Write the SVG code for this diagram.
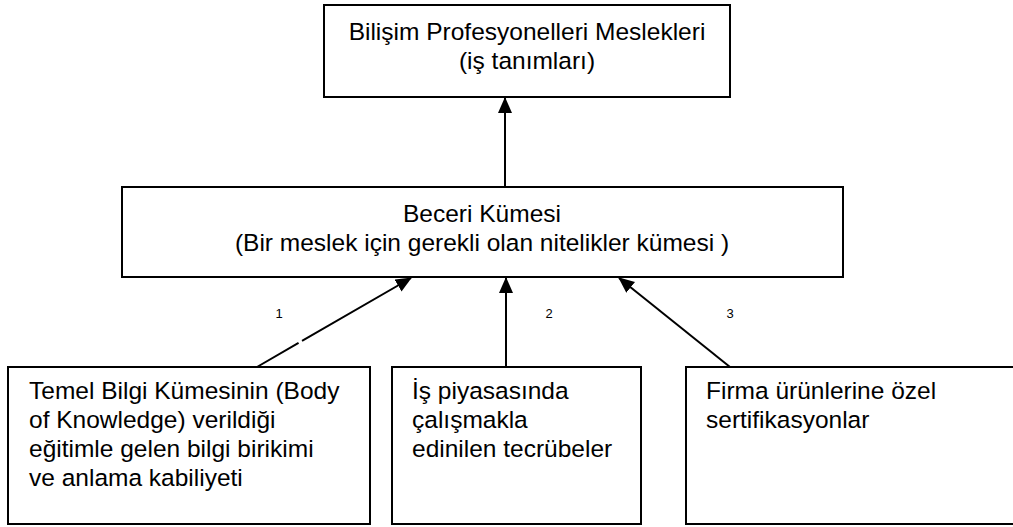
<svg xmlns="http://www.w3.org/2000/svg" width="1013" height="527" viewBox="0 0 1013 527">
<style>
.box{fill:#fff;stroke:#000;stroke-width:2}
.t{font-family:"Liberation Sans",Arial,sans-serif;font-size:24.5px;fill:#000}
.c{text-anchor:middle}
.lbl{font-family:"Liberation Sans",Arial,sans-serif;font-size:13px;fill:#000;text-anchor:middle}
.con{stroke:#000;stroke-width:2;fill:none;marker-end:url(#ah)}
</style>
<defs>
<marker id="ah" markerUnits="userSpaceOnUse" markerWidth="16" markerHeight="14" viewBox="0 0 16 14" refX="15" refY="7" orient="auto">
<path d="M0,0 L16,7 L0,14 Z" fill="#000"/>
</marker>
</defs>
<rect width="1013" height="527" fill="#fff"/>
<g id="connectors">
<path class="con" d="M505,187 L505,98"/>
<path class="con" d="M257,367 L411,278" stroke-dasharray="48 4 200"/>
<path class="con" d="M506,367 L506,278"/>
<path class="con" d="M730,367 L619,278"/>
<text class="lbl" x="279" y="318">1</text>
<text class="lbl" x="549" y="318">2</text>
<text class="lbl" x="730" y="318">3</text>
</g>
<g id="node-meslekler">
<rect class="box" x="324" y="5" width="406" height="92"/>
<text class="t c" x="527" y="40">Bilişim Profesyonelleri Meslekleri</text>
<text class="t c" x="527" y="69">(iş tanımları)</text>
</g>
<g id="node-beceri">
<rect class="box" x="122" y="187" width="721" height="90"/>
<text class="t c" x="482" y="222">Beceri Kümesi</text>
<text class="t c" x="482" y="251">(Bir meslek için gerekli olan nitelikler kümesi )</text>
</g>
<g id="node-temel">
<rect class="box" x="8" y="367" width="362" height="157"/>
<text class="t" x="29" y="399">Temel Bilgi Kümesinin (Body</text>
<text class="t" x="29" y="428">of Knowledge) verildiği</text>
<text class="t" x="29" y="457">eğitimle gelen bilgi birikimi</text>
<text class="t" x="29" y="486">ve anlama kabiliyeti</text>
</g>
<g id="node-is">
<rect class="box" x="392" y="367" width="249" height="157"/>
<text class="t" x="412" y="399">İş piyasasında</text>
<text class="t" x="412" y="428">çalışmakla</text>
<text class="t" x="412" y="457">edinilen tecrübeler</text>
</g>
<g id="node-firma">
<rect class="box" x="686" y="367" width="340" height="157"/>
<text class="t" x="706" y="399">Firma ürünlerine özel</text>
<text class="t" x="706" y="428">sertifikasyonlar</text>
</g>
</svg>
